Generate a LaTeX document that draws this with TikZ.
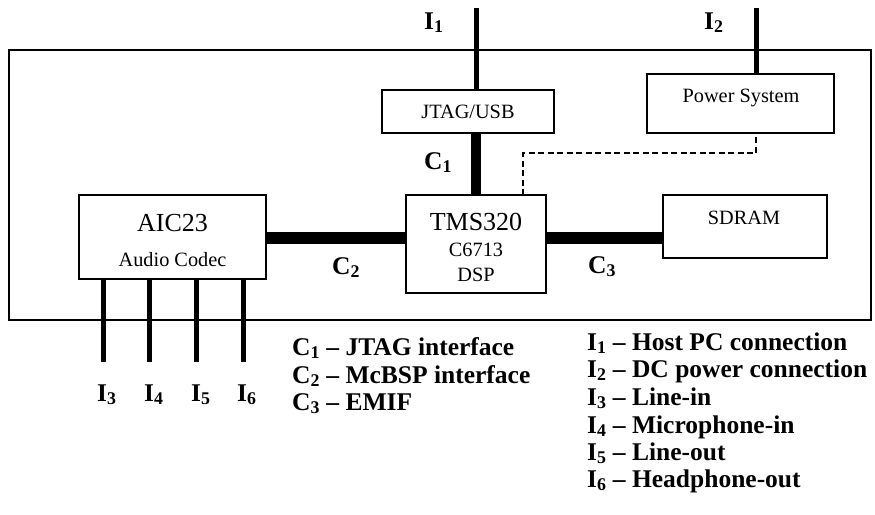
\documentclass[tikz,border=0pt]{standalone}
\usepackage{fontspec}
\setmainfont{Liberation Serif}
\begin{document}
\begin{tikzpicture}[x=1pt,y=-1pt,
  box/.style={draw, line width=1.3pt, inner sep=0pt, outer sep=0pt, anchor=north west},
  txt/.style={inner sep=0pt, font=\fontsize{20.3}{22}\selectfont},
  bigtxt/.style={inner sep=0pt, font=\fontsize{26}{28}\selectfont},
  lbl/.style={inner sep=0pt, anchor=base west, font=\fontsize{25.5}{27}\selectfont\bfseries},
  thin/.style={line width=5pt},
  bus/.style={line width=12pt},
  jbus/.style={line width=10pt},
  dsh/.style={line width=1.2pt, dash pattern=on 6pt off 3.5pt}]
\useasboundingbox (0,0) rectangle (875,514);
% outer board
\node[box, minimum width=862pt, minimum height=270pt] (board) at (9,50) {};
% blocks
\node[box, minimum width=172pt, minimum height=43pt] (jtag) at (382,90) {};
\node[box, minimum width=187pt, minimum height=59pt] (power) at (647,74) {};
\node[box, minimum width=187pt, minimum height=84pt] (aic) at (79,195) {};
\node[box, minimum width=140pt, minimum height=98pt] (tms) at (406,195) {};
\node[box, minimum width=164pt, minimum height=63pt] (sdram) at (663,195) {};
% block texts
\node[txt] (tjtag) at (468,112) {JTAG/USB};
\node[txt] (tpower) at (741,98) {Power System};
\node[bigtxt] (taic) at (172.5,223) {AIC23};
\node[txt] (taud) at (172.5,260) {Audio Codec};
\node[bigtxt] (ttms) at (476,222) {TMS320};
\node[txt] (tc67) at (476,250) {C6713};
\node[txt] (tdsp) at (476,275) {DSP};
\node[txt] (tsd) at (744,218) {SDRAM};
% coordinates
\coordinate (i1top) at (476,8);
\coordinate (i2top) at (756,8);
\coordinate (dashc) at (523,153);
\coordinate (c2y) at (0,238);
\coordinate (c3y) at (0,237.5);
\coordinate (b3) at (103,362);
\coordinate (b4) at (149,362);
\coordinate (b5) at (196,362);
\coordinate (b6) at (243,362);
% connectors
\draw[thin] (i1top) -- (i1top |- jtag.north);
\draw[jbus] (jtag.south -| i1top) -- (tms.north -| i1top);
\draw[thin] (i2top) -- (i2top |- power.north);
\draw[dsh] (dashc |- tms.north) -- (dashc) -| (i2top |- power.south);
\draw[bus] (aic.east |- c2y) -- (tms.west |- c2y);
\draw[bus] (tms.east |- c3y) -- (sdram.west |- c3y);
\draw[thin] (aic.south -| b3) -- (b3);
\draw[thin] (aic.south -| b4) -- (b4);
\draw[thin] (aic.south -| b5) -- (b5);
\draw[thin] (aic.south -| b6) -- (b6);
% connector labels
\node[lbl] (li1) at (424,29) {I\textsubscript{1}};
\node[lbl] (li2) at (704,29) {I\textsubscript{2}};
\node[lbl] (lc1) at (424,169) {C\textsubscript{1}};
\node[lbl] (lc2) at (332,274) {C\textsubscript{2}};
\node[lbl] (lc3) at (588,273) {C\textsubscript{3}};
\node[lbl] (li3) at (97,401) {I\textsubscript{3}};
\node[lbl] (li4) at (144,401) {I\textsubscript{4}};
\node[lbl] (li5) at (191,401) {I\textsubscript{5}};
\node[lbl] (li6) at (237,401) {I\textsubscript{6}};
% legends
\node[lbl] (gc1) at (292,355) {C\textsubscript{1} – JTAG interface};
\node[lbl] (gc2) at (292,383) {C\textsubscript{2} – McBSP interface};
\node[lbl] (gc3) at (292,410) {C\textsubscript{3} – EMIF};
\node[lbl] (gi1) at (587,350) {I\textsubscript{1} – Host PC connection};
\node[lbl] (gi2) at (587,377) {I\textsubscript{2} – DC power connection};
\node[lbl] (gi3) at (587,405) {I\textsubscript{3} – Line-in};
\node[lbl] (gi4) at (587,433) {I\textsubscript{4} – Microphone-in};
\node[lbl] (gi5) at (587,460) {I\textsubscript{5} – Line-out};
\node[lbl] (gi6) at (587,487) {I\textsubscript{6} – Headphone-out};
\end{tikzpicture}
\end{document}
